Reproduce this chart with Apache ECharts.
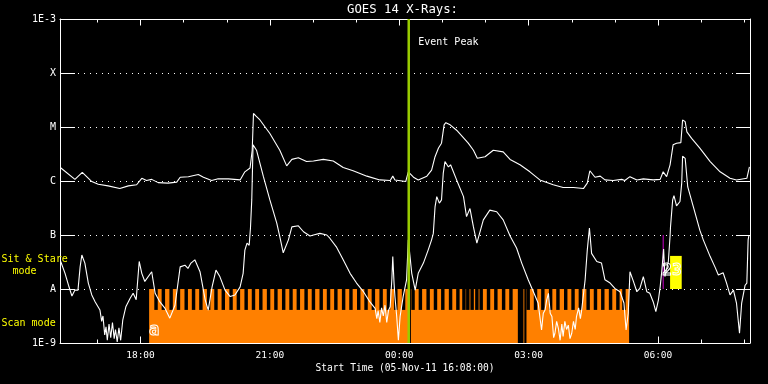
<!DOCTYPE html>
<html>
<head>
<meta charset="utf-8">
<script src="https://cdn.jsdelivr.net/npm/echarts@6/dist/echarts.min.js"></script>
<style>
html,body{margin:0;padding:0;background:#000;}
#chart{width:768px;height:384px;}
</style>
</head>
<body>
<div id="chart"></div>
<script>
// ---- data (time in decimal hours from 05-Nov-11 00:00; flux as log10 W/m^2) ----
const timeStart = 16 + 8/60;
const timeEnd = 32 + 8/60;
const hourTicks = [17,18,19,20,21,22,23,24,25,26,27,28,29,30,31,32];
const labelTicks = [18,21,24,27,30];
const timeLabels = ['18:00','21:00','00:00','03:00','06:00'];
const levelExps = [-9,-8,-7,-6,-5,-4,-3];
const levelLabels = ['1E-9','A','B','C','M','X','1E-3'];

const longChannel = [[16.14,-5.75],[16.48,-5.97],[16.65,-5.84],[16.87,-6.01],[17.02,-6.06],[17.25,-6.09],[17.52,-6.14],[17.72,-6.09],[17.91,-6.07],[18.03,-5.95],[18.14,-5.99],[18.26,-5.97],[18.41,-6.03],[18.64,-6.04],[18.84,-6.02],[18.92,-5.93],[19.11,-5.92],[19.34,-5.88],[19.46,-5.93],[19.65,-5.99],[19.80,-5.96],[20.04,-5.96],[20.31,-5.98],[20.42,-5.83],[20.54,-5.76],[20.59,-5.43],[20.62,-4.75],[20.68,-4.80],[20.77,-4.87],[21.00,-5.12],[21.23,-5.43],[21.39,-5.72],[21.51,-5.60],[21.66,-5.57],[21.85,-5.64],[22.01,-5.63],[22.24,-5.60],[22.47,-5.63],[22.70,-5.75],[22.93,-5.81],[23.25,-5.91],[23.55,-5.98],[23.79,-5.99],[23.85,-5.91],[23.90,-5.98],[24.15,-6.01],[24.21,-5.83],[24.33,-5.93],[24.44,-5.98],[24.64,-5.91],[24.75,-5.80],[24.83,-5.55],[24.91,-5.39],[24.98,-5.30],[25.04,-4.96],[25.08,-4.92],[25.18,-4.96],[25.33,-5.06],[25.60,-5.30],[25.72,-5.43],[25.81,-5.58],[25.99,-5.55],[26.18,-5.43],[26.41,-5.46],[26.57,-5.60],[26.80,-5.70],[27.03,-5.83],[27.26,-5.98],[27.57,-6.07],[27.80,-6.12],[28.04,-6.12],[28.27,-6.14],[28.36,-6.04],[28.42,-5.81],[28.54,-5.93],[28.66,-5.91],[28.77,-5.98],[28.96,-5.99],[29.16,-5.97],[29.23,-5.99],[29.35,-5.92],[29.51,-5.98],[29.66,-5.96],[29.89,-5.98],[30.05,-5.97],[30.12,-5.83],[30.20,-5.92],[30.28,-5.70],[30.35,-5.33],[30.43,-5.30],[30.53,-5.29],[30.57,-4.87],[30.63,-4.90],[30.67,-5.09],[30.78,-5.21],[30.97,-5.39],[31.21,-5.64],[31.44,-5.83],[31.67,-5.95],[31.82,-5.98],[32.06,-5.95],[32.12,-5.74]];

const shortChannel = [[16.15,-7.49],[16.25,-7.71],[16.33,-7.93],[16.41,-8.13],[16.48,-8.02],[16.55,-8.02],[16.60,-7.59],[16.64,-7.37],[16.71,-7.52],[16.79,-7.89],[16.87,-8.11],[16.95,-8.24],[17.06,-8.39],[17.10,-8.60],[17.13,-8.50],[17.17,-8.85],[17.20,-8.70],[17.23,-8.95],[17.27,-8.65],[17.31,-8.90],[17.35,-8.62],[17.39,-8.92],[17.42,-8.75],[17.46,-8.98],[17.50,-8.72],[17.54,-8.95],[17.59,-8.57],[17.66,-8.33],[17.76,-8.17],[17.83,-8.08],[17.90,-8.20],[17.97,-7.49],[18.03,-7.71],[18.10,-7.86],[18.26,-7.68],[18.34,-8.08],[18.45,-8.24],[18.57,-8.36],[18.68,-8.54],[18.80,-8.30],[18.92,-7.59],[19.03,-7.56],[19.10,-7.62],[19.17,-7.52],[19.26,-7.46],[19.38,-7.68],[19.50,-8.20],[19.57,-8.39],[19.66,-7.96],[19.75,-7.65],[19.84,-7.77],[19.96,-8.02],[20.08,-8.14],[20.19,-8.11],[20.31,-7.96],[20.38,-7.71],[20.42,-7.28],[20.47,-7.15],[20.52,-7.19],[20.55,-6.87],[20.58,-6.35],[20.61,-5.33],[20.69,-5.43],[20.85,-5.92],[21.00,-6.35],[21.16,-6.78],[21.23,-7.03],[21.31,-7.33],[21.43,-7.09],[21.51,-6.85],[21.66,-6.83],[21.78,-6.94],[21.93,-7.02],[22.01,-7.00],[22.16,-6.97],[22.32,-7.00],[22.39,-7.06],[22.55,-7.23],[22.70,-7.46],[22.86,-7.71],[23.01,-7.89],[23.17,-8.05],[23.32,-8.24],[23.44,-8.36],[23.48,-8.55],[23.51,-8.40],[23.55,-8.62],[23.59,-8.35],[23.63,-8.50],[23.67,-8.30],[23.71,-8.62],[23.75,-8.40],[23.79,-8.33],[23.83,-7.80],[23.85,-7.40],[23.88,-7.90],[23.90,-8.14],[23.94,-8.50],[23.98,-8.95],[24.02,-8.51],[24.09,-8.14],[24.17,-7.83],[24.21,-7.09],[24.29,-7.71],[24.37,-8.02],[24.44,-7.71],[24.56,-7.52],[24.67,-7.28],[24.75,-7.09],[24.79,-6.97],[24.83,-6.48],[24.87,-6.29],[24.93,-6.41],[24.98,-6.35],[25.02,-5.86],[25.06,-5.64],[25.14,-5.74],[25.19,-5.70],[25.33,-5.98],[25.49,-6.29],[25.56,-6.66],[25.64,-6.51],[25.72,-6.85],[25.80,-7.15],[25.95,-6.72],[26.10,-6.54],[26.26,-6.57],[26.41,-6.72],[26.57,-7.02],[26.72,-7.24],[26.84,-7.52],[26.99,-7.83],[27.11,-8.05],[27.22,-8.26],[27.30,-8.76],[27.34,-8.45],[27.38,-8.39],[27.42,-8.20],[27.46,-8.08],[27.50,-8.45],[27.54,-8.51],[27.58,-8.90],[27.61,-8.82],[27.65,-8.60],[27.69,-8.73],[27.73,-8.95],[27.77,-8.65],[27.80,-8.88],[27.84,-8.60],[27.88,-8.75],[27.92,-8.67],[27.96,-8.92],[28.00,-8.82],[28.04,-8.60],[28.08,-8.75],[28.11,-8.51],[28.16,-8.35],[28.20,-8.55],[28.23,-8.39],[28.31,-7.83],[28.36,-7.28],[28.41,-6.87],[28.46,-7.34],[28.58,-7.49],[28.69,-7.52],[28.77,-7.83],[28.89,-7.89],[29.00,-7.99],[29.12,-8.05],[29.21,-8.26],[29.26,-8.76],[29.31,-8.45],[29.35,-7.68],[29.43,-7.86],[29.51,-8.05],[29.58,-7.99],[29.66,-7.77],[29.74,-8.05],[29.81,-8.08],[29.89,-8.24],[29.95,-8.42],[30.01,-8.20],[30.05,-7.96],[30.09,-7.65],[30.13,-7.26],[30.16,-7.77],[30.24,-7.49],[30.28,-7.02],[30.29,-6.85],[30.34,-6.35],[30.37,-6.27],[30.43,-6.46],[30.51,-6.38],[30.55,-6.04],[30.57,-5.54],[30.63,-5.58],[30.69,-6.11],[30.82,-6.48],[30.97,-6.91],[31.05,-7.09],[31.21,-7.40],[31.32,-7.59],[31.40,-7.74],[31.44,-7.71],[31.51,-7.70],[31.59,-7.89],[31.67,-8.11],[31.75,-8.02],[31.82,-8.26],[31.89,-8.82],[31.94,-8.26],[32.02,-7.93],[32.06,-7.89],[32.09,-7.09],[32.11,-7.00]];

// Scan mode period, its breaks, and short pauses between raster steps
const scanPeriod = [18.20, 29.33];
const scanBreaks = [[24.23,24.27],[26.75,26.88],[26.90,26.95]];
const scanPauseTimes = [18.36,18.53,18.71,18.88,19.06,19.23,19.40,19.58,19.75,19.92,20.10,20.27,20.45,20.62,20.79,20.97,21.14,21.32,21.49,21.66,21.84,22.01,22.19,22.36,22.53,22.71,22.88,23.06,23.23,23.40,23.58,23.75,23.92,24.10,24.32,24.49,24.67,24.84,25.01,25.19,25.36,25.50,25.59,25.69,25.80,25.90,26.07,26.24,26.42,26.59,26.99,27.16,27.33,27.51,27.68,27.86,28.03,28.20,28.38,28.55,28.72,28.90,29.07,29.21];
const scanPauseHours = 0.08;
const scanLevels = [1e-9, 4.1e-9, 1e-8];
// Sit & stare period
const sitStarePeriod = [30.28, 30.55];
const sitStareLevels = [1e-8, 4.1e-8];
const markerTime = 30.12;
const markerLevels = [1e-8, 1e-7];
const eventPeak = 24.22;

const MONO = '"DejaVu Sans Mono", monospace';
const chart = echarts.init(document.getElementById('chart'), null, {renderer:'canvas'});

function rectSeries(data, color, z) {
  return {
    type:'custom', z, silent:true, clip:true, data,
    encode:{x:[0,1], y:[2,3]},
    renderItem:(params, api) => {
      const a = api.coord([api.value(0), api.value(2)]);
      const b = api.coord([api.value(1), api.value(3)]);
      return {type:'rect',
        shape:{x:Math.min(a[0],b[0]), y:Math.min(a[1],b[1]), width:Math.abs(b[0]-a[0]), height:Math.abs(b[1]-a[1])},
        style:{fill:color}};
    }
  };
}

const toFlux = arr => arr.map(p => [p[0], Math.pow(10, p[1])]);
const tickLabel = v => { const i = labelTicks.indexOf(Math.round(v)); return i >= 0 ? timeLabels[i] : ''; };
const levelLabel = v => { const i = levelExps.indexOf(Math.round(Math.log10(v))); return i >= 0 ? levelLabels[i] : ''; };

const baseX = {type:'value', min:timeStart, max:timeEnd, splitLine:{show:false}};
const white = '#ffffff';

chart.setOption({
  animation:false,
  backgroundColor:'#000000',
  grid:{left:60, right:18, top:19, bottom:41},
  xAxis:[
    Object.assign({}, baseX, {position:'bottom',
      axisLine:{show:true, lineStyle:{color:white, width:1}},
      axisTick:{show:true, inside:true, length:3.5, customValues:hourTicks, lineStyle:{color:white}},
      axisLabel:{show:true, customValues:labelTicks, formatter:tickLabel, color:white, fontFamily:MONO, fontSize:9.5, margin:8}}),
    Object.assign({}, baseX, {position:'bottom',
      axisLine:{show:false},
      axisTick:{show:true, inside:true, length:6.5, customValues:labelTicks, lineStyle:{color:white}},
      axisLabel:{show:false}}),
    Object.assign({}, baseX, {position:'top',
      axisLine:{show:true, lineStyle:{color:white, width:1}},
      axisTick:{show:true, inside:true, length:3.5, customValues:hourTicks, lineStyle:{color:white}},
      axisLabel:{show:false}}),
    Object.assign({}, baseX, {position:'top',
      axisLine:{show:false},
      axisTick:{show:true, inside:true, length:6.5, customValues:labelTicks, lineStyle:{color:white}},
      axisLabel:{show:false}})
  ],
  yAxis:[
    {type:'log', logBase:10, min:1e-9, max:1e-3, position:'left',
      axisLine:{show:true, lineStyle:{color:white}},
      axisTick:{show:true, inside:true, length:15, lineStyle:{color:white}},
      axisLabel:{formatter:levelLabel, color:white, fontFamily:MONO, fontSize:10, margin:4},
      splitLine:{show:true, lineStyle:{color:white, type:[1,5], width:1}},
      minorTick:{show:false}, minorSplitLine:{show:false}},
    {type:'log', logBase:10, min:1e-9, max:1e-3, position:'right',
      axisLine:{show:true, lineStyle:{color:white}},
      axisTick:{show:true, inside:true, length:14, lineStyle:{color:white}},
      axisLabel:{show:false}, splitLine:{show:false}}
  ],
  series:[
    rectSeries([[scanPeriod[0], scanPeriod[1], scanLevels[0], scanLevels[2]]], '#ff8000', 2),
    rectSeries(scanPauseTimes.map(c => [c - scanPauseHours/2, c + scanPauseHours/2, scanLevels[1], scanLevels[2]]), '#000000', 3),
    rectSeries(scanBreaks.map(b => [b[0], b[1], scanLevels[0], scanLevels[2]]), '#000000', 3),
    rectSeries([[sitStarePeriod[0], sitStarePeriod[1], sitStareLevels[0], sitStareLevels[1]]], '#ffff00', 3),
    {type:'line', name:'marker', z:4, silent:true, showSymbol:false, symbol:'none',
      data:[[markerTime, markerLevels[0]], [markerTime, markerLevels[1]]],
      lineStyle:{color:'#cc00cc', width:1}},
    {type:'line', name:'long', z:5, silent:true, showSymbol:false, symbol:'none',
      data:toFlux(longChannel), lineStyle:{color:white, width:1.1}},
    {type:'line', name:'short', z:5, silent:true, showSymbol:false, symbol:'none',
      data:toFlux(shortChannel), lineStyle:{color:white, width:1.1}},
    {type:'line', name:'peak', z:6, silent:true, showSymbol:false, symbol:'none',
      data:[[eventPeak, 1e-9], [eventPeak, 1e-3]], lineStyle:{color:'#99cc00', width:2.5}}
  ]
});

const peakX = chart.convertToPixel({xAxisIndex:0}, eventPeak);
chart.setOption({
  graphic:[
    {type:'text', x:402.5, y:10, silent:true, style:{text:'GOES 14 X-Rays:', fill:white, font:'12.3px ' + MONO, align:'center', verticalAlign:'middle'}},
    {type:'text', x:405, y:368, silent:true, style:{text:'Start Time (05-Nov-11 16:08:00)', fill:white, font:'9.6px ' + MONO, align:'center', verticalAlign:'middle'}},
    {type:'text', x:peakX + 9.5, y:42.5, silent:true, style:{text:'Event Peak', fill:white, font:'10px ' + MONO, align:'left', verticalAlign:'middle'}},
    {type:'text', x:1.5, y:259.5, silent:true, z:100, style:{text:'Sit & Stare', fill:'#ffff00', font:'10px ' + MONO, align:'left', verticalAlign:'middle'}},
    {type:'text', x:12.5, y:271, silent:true, z:100, style:{text:'mode', fill:'#ffff00', font:'10px ' + MONO, align:'left', verticalAlign:'middle'}},
    {type:'text', x:1.5, y:323, silent:true, z:100, style:{text:'Scan mode', fill:'#ffff00', font:'10px ' + MONO, align:'left', verticalAlign:'middle'}},
    {type:'text', x:154, y:331, silent:true, z:100, style:{text:'a', fill:'rgba(0,0,0,0)', stroke:white, lineWidth:1, font:'bold 17px ' + MONO, align:'center', verticalAlign:'middle'}},
    {type:'text', x:672, y:271, silent:true, z:100, style:{text:'23', fill:'rgba(0,0,0,0)', stroke:white, lineWidth:1, font:'bold 16px ' + MONO, align:'center', verticalAlign:'middle'}}
  ]
});
</script>
</body>
</html>
